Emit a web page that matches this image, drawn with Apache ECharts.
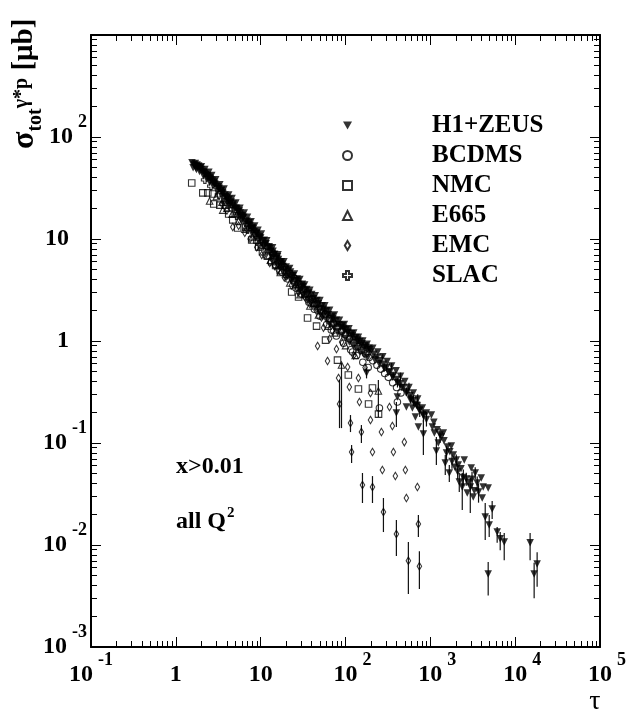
<!DOCTYPE html>
<html>
<head>
<meta charset="utf-8">
<script src="https://cdn.jsdelivr.net/npm/echarts@6/dist/echarts.min.js"></script>
<style>
html,body{margin:0;padding:0;background:#fff}
#chart{width:629px;height:713px}
</style>
</head>
<body>
<div id="chart"></div>
<script>
// values: [tau, sigma] or [tau, sigma, sigmaLow, sigmaHigh]
const h1zeus = [
  [1.55,56],[1.62,54],[1.7,55],[1.78,53],[1.86,52],[1.95,50],[2.05,46],[2.15,45],[2.25,43],[2.4,41],[2.55,39],[2.7,37],[2.85,35],[3.0,33],[3.2,31],[3.4,29.5],[3.6,28],[3.85,26],[4.1,24],[4.4,22.5],[4.7,21],[5.0,20],[5.4,18.5],[5.8,17],[6.2,16],[6.7,14.8],[7.2,13.8],[7.8,12.7],[8.4,11.8],[9.1,10.9],[9.8,10.2],
  [1.6,50],[1.75,48],[1.9,46],[2.1,42],[2.3,39],[2.5,36],[2.75,33],[3.1,29],[3.5,26],[3.9,23.5],[4.3,21],[4.8,19],[5.3,17],[5.9,15.3],[6.5,14],[7.1,12.6],[7.9,11.3],[8.7,10.2],[9.5,9.4],
  [2.0,51],[2.2,48],[2.45,45],[2.65,42],[2.95,38],[3.3,34],[3.7,31],[4.2,27],[4.6,25],[5.1,22.5],[5.7,20],[6.4,18],[7.0,16.3],[7.7,14.8],[8.5,13.4],[9.3,12.2],
  [1.68,52],[1.82,51],[2.0,48],[2.35,42],[2.6,38],[2.9,34.5],[3.25,31.5],[3.55,28.5],[4.0,25.5],[4.5,23],[5.2,20],[5.6,18.8],[6.1,17],[6.9,15],[7.5,13.6],[8.1,12.6],[8.9,11.4],[9.7,10.6],
  [1.72,50],[1.9,48.5],[2.2,44],[2.5,40],[2.8,36],[3.15,32.5],[3.45,30],[3.8,27],[4.25,24.5],[4.75,22],[5.25,19.5],[5.75,18],[6.3,16.3],[7.3,14.4],[8.0,13],[9.0,11.4],
  [10.5,9.6],[11.3,8.9],[12.2,8.2],[13.2,7.6],[14.3,7.0],[15.5,6.4],[16.8,5.9],[18.2,5.4],[19.7,5.0],[21.5,4.6],[23.5,4.2],[25.5,3.9],[28,3.6],[30.5,3.35],[33,3.1],[36,2.85],[39.5,2.62],[43,2.42],[47,2.24],[51,2.08],[56,1.93],[61,1.8],[67,1.68],[73,1.57],[80,1.46],[88,1.36],[96,1.28],[105,1.2],[115,1.12],[126,1.04],[138,0.97],[151,0.91],[165,0.86],[180,0.82],[196,0.78],
  [10.8,8.6],[12,7.6],[13.5,6.6],[15,5.9],[16.5,5.3],[18.5,4.75],[20.5,4.3],[23,3.85],[26,3.45],[29,3.1],[32,2.8],[35.5,2.55],[39,2.33],[44,2.1],[49,1.9],[54,1.73],[60,1.58],[66,1.46],[74,1.34],[82,1.23],[91,1.14],[100,1.06],[111,0.98],[123,0.91],[136,0.84],[150,0.78],[166,0.73],[183,0.69],
  [10.2,11.2],[11.8,9.6],[13.8,8.2],[16,7.0],[18.8,6.0],[22,5.15],[25,4.55],[29,4.0],[33,3.55],[38,3.15],[44,2.78],[50,2.5],[57,2.22],[65,2.0],[74,1.8],[85,1.6],[97,1.45],[110,1.32],[125,1.2],[142,1.09],[160,1.0],[180,0.93],
  [11,9.7],[12.6,8.4],[14,7.6],[15.8,6.7],[17.5,6.0],[20,5.3],[22.5,4.75],[27,4.05],[31,3.6],[35,3.2],[40,2.85],[46,2.5],[53,2.22],[60,1.98],[70,1.75],[78,1.6],[92,1.42],[102,1.3],[118,1.18],[133,1.08],[148,0.99],[170,0.9],[190,0.85],
  [10,10.2],[11.6,9.0],[12.9,8.1],[14.6,7.1],[16.2,6.3],[18,5.7],[21,4.95],[24,4.35],[27.5,3.85],[31.5,3.4],[37,2.95],[42,2.6],[48,2.32],[55,2.05],[63,1.82],[71,1.64],[84,1.44],[95,1.33],[108,1.22],[121,1.12],[140,1.02],[157,0.94],[175,0.87],[193,0.82],
  [215,0.74],[235,0.69],[255,0.64],[280,0.59],[305,0.55,0.52,0.58],[335,0.5],[365,0.46,0.43,0.49],[400,0.42],[440,0.38,0.35,0.41],[480,0.35],[525,0.32,0.29,0.35],[575,0.29],[630,0.26,0.23,0.29],[690,0.235],[750,0.21,0.18,0.24],[820,0.19],[900,0.17,0.145,0.2],
  [220,0.66],[250,0.6],[285,0.54,0.5,0.58],[320,0.49],[360,0.44],[410,0.39,0.35,0.43],[460,0.35],[520,0.31],[590,0.27,0.24,0.3],[660,0.24],[740,0.21],[830,0.185,0.16,0.21],
  [210,0.85],[240,0.78],[275,0.7,0.66,0.74],[310,0.63],[350,0.57,0.53,0.61],[395,0.51],[445,0.45,0.41,0.49],[500,0.4],[560,0.35,0.31,0.39],[630,0.31],[710,0.27,0.24,0.3],
  [177,0.485,0.43,0.55],[398,0.197,0.1435,0.252],[409,0.282],[522,0.225],[582,0.264],[614,0.22],[666,0.18],[704,0.231],[723,0.1435],[806,0.22],
  [828,0.1226,0.0762,0.168],[898,0.197],[1028,0.188],[1057,0.1435],[1115,0.125],[1178,0.0835,0.0608,0.1145],[1242,0.1],[1347,0.1145],[1422,0.125],
  [1500,0.0637,0.0485,0.0762],[1585,0.0914],[1674,0.0508,0.0415,0.0608],[1767,0.0935],[1866,0.0762],[2023,0.068,0.06,0.077],[2135,0.0608],
  [2194,0.0415,0.0331,0.0508],[2379,0.037,0.022,0.0508],[2512,0.068],[2652,0.0444,0.038,0.051],[2723,0.0323],[2958,0.037,0.0206,0.0454],
  [3035,0.0569],[3206,0.0296],[3383,0.0508,0.044,0.058],[3570,0.0405,0.034,0.047],[3981,0.0454],[4089,0.0289],[4436,0.0188,0.0112,0.0258],
  [4808,0.0362],[4943,0.0157,0.012,0.0197],[5357,0.0225,0.018,0.027],[6134,0.0134,0.0105,0.015],[6663,0.0115,0.0089,0.0134],[7430,0.0107,0.0071,0.0131],
  [4808,0.0052,0.0032,0.0068],[15000,0.0105,0.0071,0.0131],[16740,0.0052,0.003,0.0067],[18150,0.0065,0.0039,0.0085],
  [1100,0.16],[1200,0.135],[1300,0.12,0.1,0.14],[1450,0.105],[1550,0.08,0.068,0.093],[1700,0.082],[1800,0.066,0.056,0.077],[1950,0.058],
  [2100,0.052,0.044,0.06],[2300,0.056],[2450,0.046,0.038,0.055],[2800,0.041],[3100,0.044,0.036,0.052],[3300,0.034],[3700,0.033,0.026,0.04],[4200,0.037]
];
const bcdms = [
  [12,8.5],[14,7.3],[16.5,6.1],[19,5.3],[22,4.6],[25,4.1],[28,3.65],[32,3.2],[36,2.9],[41,2.55],[46,2.3],[52,2.05],[58,1.85],[65,1.65],[72,1.5],[80,1.38],
  [90,1.25],[100,1.15],[112,1.05],[125,0.96],[140,0.88],[155,0.81],[172,0.75],[190,0.69],[210,0.64],[235,0.58],[260,0.53],[290,0.48],[320,0.44],[360,0.39],[400,0.35],[450,0.31],
  [121,0.78],[409,0.252],[251,0.22],
  [15,5.6],[18,4.7],[21,4.05],[26,3.3],[30,2.9],[37,2.4],[43,2.05],[50,1.75],[60,1.45],[68,1.28],[78,1.12],[95,0.95],[115,0.82],[135,0.72],[160,0.62],[185,0.55]
];
const nmc = [
  [1.54,35.4],[2.08,28.3],[2.38,28.3],[2.72,27.6],[2.8,22],[3.3,21.5],[3.87,21.5],[4.2,17.6],[4.69,15.4],[5.36,12.8],[6.66,13.1],[7.84,9.77],[8.98,9.77],[9.47,8.36],
  [10.5,7.5],[12,6.8],[13.5,6.0],[15,5.5],[17,4.9],[23.2,3.02],[28,2.7],[35.7,1.68],[45.6,1.4],[58.2,1.02],[80.5,0.65],[108,0.464],[142,0.338],[187,0.241],[245,0.192],[208,0.346]
];
const e665 = [
  [2.5,23.6],[3.57,19.2],[3.0,26],[3.5,23],[4.0,20],[4.6,17.5],[5.5,15],[6.5,12.5],[8,10.5],[10,8.4],[12.5,6.9],[16,5.5],[20,4.5],[26,3.6],[33,2.9],[42,2.35],[55,1.85],[70,1.5],
  [89.7,0.582,0.14,0.608],[244,0.323,0.18,0.415],
  [13,6.2],[17,4.7],[22,3.7],[29,2.85],[38,2.2],[48,1.8],[62,1.4],[75,1.2],[100,0.9],[130,0.72]
];
const emc = [
  [33,2.7],[46.9,0.893],[61.4,0.637],[82.8,0.434],[85,0.241,0.14,0.415],[111,0.354],[114.5,0.157,0.128,0.188],[118,0.0817,0.0637,0.0955],[142,0.434],[146,0.252],
  [154,0.128,0.1,0.15],[158.5,0.0387,0.0258,0.0508],[78.3,0.836],[106,0.556],[197,0.168],[208,0.0817],[208,0.037,0.0258,0.0474],[265,0.128],[272,0.0543],
  [280,0.0211,0.0134,0.0289],[367,0.0817],[387,0.0474],[398,0.0128,0.0078,0.0176],[357,0.147],[494,0.102],[508,0.0543],[522,0.0289],[551,0.007,0.0033,0.0107],
  [704,0.037],[723,0.0161,0.012,0.0197],[743,0.0062,0.0037,0.0087],[197,0.309],[330,0.225],
  [4.69,13.1],[10.3,6.97],[12.8,5.82],[14.6,5.43],[3.5,22],[4.0,19],[5.5,13.5],[6.5,11.5],[7.5,10],[9,8.3],[11,7],[16,5],[19,4.2],[23,3.5],[28,3.0],[38,2.3],[55,1.35],[65,1.05],
  [13.5,6.5],[20,4.3],[27,3.3],[35,2.55],[45,2.0],[52,1.7],[70,1.25],[90,0.98],[125,0.72],[170,0.55]
];
const slac = [
  [4.5,22],[6,17],[8,12.5],[11,9],[14,7.2],[18,5.6],[24,4.3],[32,3.3],
  [2.2,38],[2.6,33],[3.2,27],[3.8,23],[5.2,16.8],[7.0,12.3],[9.6,8.9]
];
const legendNames = ['H1+ZEUS', 'BCDMS', 'NMC', 'E665', 'EMC', 'SLAC'];
const xRange = [0.1, 1e5];
const yRange = [1e-3, 1e3];

const serif = "'Liberation Serif','Times New Roman',serif";
const chart = echarts.init(document.getElementById('chart'));

const labelRich = {
  b: {fontFamily: serif, fontWeight: 'bold', fontSize: 24, lineHeight: 48, color: '#000'},
  bx: {fontFamily: serif, fontWeight: 'bold', fontSize: 24, lineHeight: 48, color: '#000', padding: [0, 0, 0, 14]},
  p: {fontFamily: serif, fontWeight: 'bold', fontSize: 24, lineHeight: 48, color: '#000', padding: [0, 18, 0, 0]},
  e: {fontFamily: serif, fontWeight: 'bold', fontSize: 18, lineHeight: 18, color: '#000', padding: [0, 0, 30, 5]}
};
function expOf(v) { return Math.round(Math.log10(v)); }

function frameAxis(range, pos, label) {
  return {
    type: 'log', logBase: 10, min: range[0], max: range[1], position: pos,
    axisLine: {show: true, onZero: false, lineStyle: {color: '#000', width: 2}},
    axisTick: {show: true, inside: true, length: 10, lineStyle: {color: '#000', width: 1}},
    minorTick: {show: true, splitNumber: 9, length: 6, lineStyle: {color: '#000', width: 1}},
    splitLine: {show: false},
    minorSplitLine: {show: false},
    axisLabel: label || {show: false}
  };
}

const xLabel = {
  show: true, margin: 4, showMinLabel: true, showMaxLabel: true, rich: labelRich,
  formatter: v => {
    const e = expOf(v);
    if (e === 0) return '{b|1}';
    if (e === 1) return '{b|10}';
    return (e > 0 ? '{bx|10}' : '{b|10}') + '{e|' + e + '}';
  }
};
const yLabel = {
  show: true, margin: 4, showMinLabel: true, showMaxLabel: true, rich: labelRich,
  formatter: v => {
    const e = expOf(v);
    if (e === 3) return '';
    if (e === 0) return '{p|1}';
    if (e === 1) return '{p|10}';
    return '{b|10}{e|' + e + '}';
  }
};

const openStyle = {color: 'rgba(0,0,0,0)', borderColor: '#000', borderWidth: 1.1};
function scatter(name, data, symbol, size, style) {
  return {
    type: 'scatter', name: name, data: data, symbol: symbol, symbolSize: size,
    encode: {x: 0, y: 1}, itemStyle: style, emphasis: {disabled: true}, z: 3
  };
}
function errorBars(data) {
  return {
    type: 'custom', silent: true, z: 2,
    data: data.filter(d => d.length === 4), encode: {x: 0, y: 1},
    renderItem: (params, api) => {
      const a = api.coord([api.value(0), api.value(2)]);
      const b = api.coord([api.value(0), api.value(3)]);
      return {type: 'line', shape: {x1: a[0], y1: a[1], x2: b[0], y2: b[1]}, style: {stroke: '#111', lineWidth: 1.2}};
    }
  };
}

const downTriangle = 'path://M-3,-2.6L3,-2.6L0,2.6Z';
const crossPath = 'path://M-1,-3L1,-3L1,-1L3,-1L3,1L1,1L1,3L-1,3L-1,1L-3,1L-3,-1L-1,-1Z';
const diamondPath = 'path://M0,-4L2.4,0L0,4L-2.4,0Z';
const legendIcons = [downTriangle, 'circle', 'rect', 'triangle', diamondPath, crossPath];

chart.setOption({
  animation: false,
  backgroundColor: '#fff',
  grid: {left: 91, right: 28, top: 35, bottom: 66},
  xAxis: [frameAxis(xRange, 'bottom', xLabel), frameAxis(xRange, 'top')],
  yAxis: [frameAxis(yRange, 'left', yLabel), frameAxis(yRange, 'right')],
  legend: {
    orient: 'vertical', left: 337, top: 108, itemWidth: 9, itemHeight: 9, itemGap: 5,
    symbolKeepAspect: true, selectedMode: false,
    data: legendNames.map((n, i) => ({name: n, icon: legendIcons[i]})),
    textStyle: {fontFamily: serif, fontWeight: 'bold', fontSize: 25, color: '#000', padding: [0, 0, 0, 75]}
  },
  series: [
    errorBars(slac), errorBars(emc), errorBars(e665), errorBars(nmc), errorBars(bcdms), errorBars(h1zeus),
    scatter('SLAC', slac, crossPath, 7, openStyle),
    scatter('EMC', emc, diamondPath, [4.5, 7.5], openStyle),
    scatter('E665', e665, 'triangle', 6.5, openStyle),
    scatter('NMC', nmc, 'rect', 6.5, openStyle),
    scatter('BCDMS', bcdms, 'circle', 6.5, openStyle),
    scatter('H1+ZEUS', h1zeus, downTriangle, 7.5, {color: '#000'})
  ],
  graphic: [
    {
      type: 'text', x: 25, y: 149, rotation: Math.PI / 2,
      style: {
        text: '{s|σ}{sub|tot}{sup|γ*p}{u| [μb]}', align: 'left', verticalAlign: 'middle',
        rich: {
          s: {fontFamily: serif, fontWeight: 'bold', fontSize: 32, fill: '#000'},
          sub: {fontFamily: serif, fontWeight: 'bold', fontSize: 20, fill: '#000', padding: [22, 0, 0, 0]},
          sup: {fontFamily: serif, fontWeight: 'bold', fontSize: 20, fill: '#000', padding: [0, 0, 6, 0]},
          u: {fontFamily: serif, fontWeight: 'bold', fontSize: 29, fill: '#000'}
        }
      }
    },
    {
      type: 'text', x: 176, y: 467,
      style: {text: 'x>0.01', fontFamily: serif, fontWeight: 'bold', fontSize: 24, fill: '#000', align: 'left', verticalAlign: 'middle'}
    },
    {
      type: 'text', x: 176, y: 522,
      style: {
        text: '{a|all Q}{s|2}', align: 'left', verticalAlign: 'middle',
        rich: {
          a: {fontFamily: serif, fontWeight: 'bold', fontSize: 24, fill: '#000'},
          s: {fontFamily: serif, fontWeight: 'bold', fontSize: 15, fill: '#000', padding: [0, 0, 18, 1]}
        }
      }
    },
    {
      type: 'text', x: 595, y: 702,
      style: {text: 'τ', fontFamily: serif, fontSize: 28, fill: '#000', align: 'center', verticalAlign: 'middle'}
    }
  ]
});
</script>
</body>
</html>
